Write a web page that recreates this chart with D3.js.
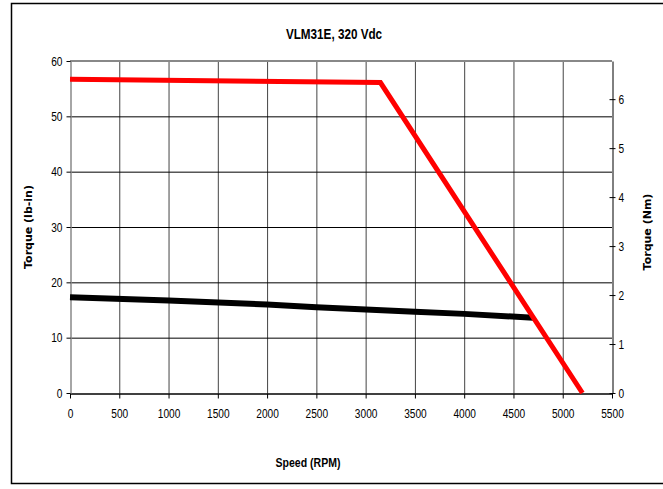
<!DOCTYPE html>
<html><head><meta charset="utf-8">
<script src="https://cdn.jsdelivr.net/npm/d3@7"></script>
<style>body{margin:0;background:#fff}svg{display:block}</style>
</head><body>
<svg id="c" width="663" height="489"></svg>
<script>
const title = "VLM31E, 320 Vdc";
const xTicks = [0,500,1000,1500,2000,2500,3000,3500,4000,4500,5000,5500];
const yTicks = [0,10,20,30,40,50,60];
const y2Ticks = [0,1,2,3,4,5,6];
const peakRpm = [0, 3150, 5200];
const peakTorque = [56.7, 56.1, 0];
const contRpm = [0, 1000, 2000, 2500, 3000, 3500, 4000, 4700];
const contTorque = [17.3, 16.7, 16.0, 15.5, 15.1, 14.7, 14.3, 13.6];
const lbinPerNm = 8.8507;

const svg = d3.select("#c");
const L = 70, R = 612, T = 61, B = 393;
const x = d3.scaleLinear().domain([0,5500]).range([L,R]);
const y = d3.scaleLinear().domain([0,60]).range([B,T]);
const y2 = d3.scaleLinear().domain([0,60/lbinPerNm]).range([B,T]);
const narrow = "'Liberation Sans Narrow','Arial Narrow','Liberation Sans',Arial,sans-serif";
const SX = 0.78; // horizontal condensing to mimic a narrow face

// outer frame (right edge falls outside the view, as in the reference)
svg.append("rect").attr("x",11.5).attr("y",3.5).attr("width",660).attr("height",480)
  .attr("fill","none").attr("stroke","#000").attr("stroke-width",1.5);

// grid
svg.append("g").selectAll("line").data(xTicks.slice(1,-1)).join("line")
  .attr("x1",d=>x(d)+0.5).attr("x2",d=>x(d)+0.5).attr("y1",T).attr("y2",B)
  .attr("stroke","#444").attr("stroke-width",1);
svg.append("g").selectAll("line").data(yTicks.slice(1,-1)).join("line")
  .attr("x1",L).attr("x2",R).attr("y1",d=>y(d)+0.5).attr("y2",d=>y(d)+0.5)
  .attr("stroke","#000").attr("stroke-width",1);
svg.append("line").attr("x1",L).attr("x2",R).attr("y1",T).attr("y2",T)
  .attr("stroke","#888").attr("stroke-width",2);

// axes
const fmt = d3.format("d");
const gx = svg.append("g").attr("transform",`translate(0,${B+0.5})`)
  .call(d3.axisBottom(x).tickValues(xTicks).tickFormat(fmt).tickSize(5).tickPadding(10).tickSizeOuter(0));
const gy = svg.append("g").attr("transform",`translate(${L+0.5},0)`)
  .call(d3.axisLeft(y).tickValues(yTicks).tickFormat(fmt).tickSize(4).tickPadding(4).tickSizeOuter(0));
const gy2 = svg.append("g").attr("transform",`translate(${R+0.5},0)`)
  .call(d3.axisRight(y2).tickValues(y2Ticks).tickFormat(fmt).tickSize(3).tickPadding(3).tickSizeOuter(0));
gy2.selectAll(".tick line").attr("x1",-3);
[gx,gy,gy2].forEach(g=>{
  g.selectAll("text").attr("font-family",narrow).attr("font-size",13).attr("fill","#000")
    .each(function(){
      const t = d3.select(this);
      const xx = +t.attr("x") || 0;
      t.attr("x", xx/SX).attr("transform",`scale(${SX},1)`);
    });
  g.selectAll(".tick line").attr("stroke","#000");
});
gy.select(".domain").attr("stroke","#888").attr("stroke-width",1.5);
gx.select(".domain").attr("stroke","#000").attr("stroke-width",1.5);
gy2.select(".domain").attr("stroke","#000");

// lines
const line = d3.line().x(d=>x(d[0])).y(d=>y(d[1]));
svg.append("path").datum(contRpm.map((r,i)=>[r,contTorque[i]]))
  .attr("d",line).attr("fill","none").attr("stroke","#000").attr("stroke-width",6);
svg.append("path").datum(peakRpm.map((r,i)=>[r,peakTorque[i]]))
  .attr("d",line).attr("fill","none").attr("stroke","#ff0000").attr("stroke-width",5)
  .attr("stroke-linejoin","miter");

// titles
svg.append("text").attr("transform",`translate(334,39) scale(${SX},1)`).attr("text-anchor","middle")
  .attr("font-family",narrow).attr("font-weight","bold").attr("font-size",15).text(title);
svg.append("text").attr("transform",`translate(308,467) scale(${SX},1)`).attr("text-anchor","middle")
  .attr("font-family",narrow).attr("font-weight","bold").attr("font-size",13.5).text("Speed  (RPM)");
svg.append("text").attr("transform","translate(32,227) rotate(-90)").attr("text-anchor","middle")
  .attr("font-family","'DejaVu Sans',Verdana,sans-serif").attr("font-weight","bold").attr("font-size",11)
  .text("Torque (lb-in)");
svg.append("text").attr("transform","translate(651,232) rotate(-90)").attr("text-anchor","middle")
  .attr("font-family","'DejaVu Sans',Verdana,sans-serif").attr("font-weight","bold").attr("font-size",11)
  .text("Torque (Nm)");
</script>
</body></html>
